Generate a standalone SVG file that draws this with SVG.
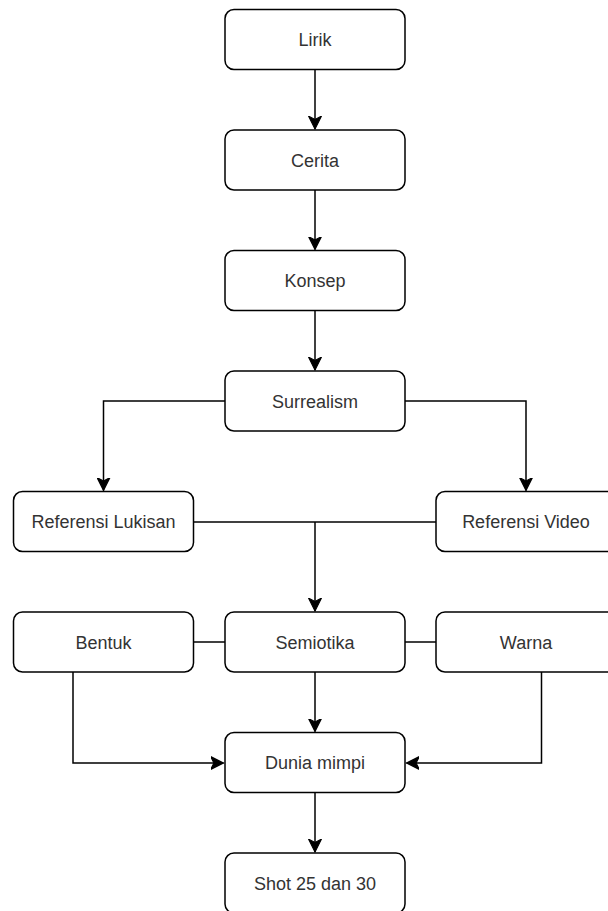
<svg xmlns="http://www.w3.org/2000/svg" width="608" height="911" viewBox="0 0 608 911">
<style>
.box{fill:#fff;stroke:#000;stroke-width:1.5}
.lbl{font-family:"Liberation Sans",Arial,sans-serif;font-size:18px;fill:#333;text-anchor:middle;dominant-baseline:central}
.edge{fill:none;stroke:#000;stroke-width:1.5}
.arr{marker-end:url(#ah)}
</style>
<defs>
<marker id="ah" markerUnits="userSpaceOnUse" markerWidth="14" markerHeight="14" viewBox="0 0 12 12" refX="11" refY="6" orient="auto">
<path d="M11,6 L0,0.5 L2.8,6 L0,11.5 Z" fill="#000" stroke="#000" stroke-width="1"/>
</marker>
</defs>
<rect width="608" height="911" fill="#fff"/>
<g id="connectors">
<path class="edge arr" d="M315,69.5 V129"/>
<path class="edge arr" d="M315,190 V249.5"/>
<path class="edge arr" d="M315,310.5 V370"/>
<path class="edge arr" d="M225,401 H103.5 V490.5"/>
<path class="edge arr" d="M405,401 H526 V490.5"/>
<path class="edge" d="M193.5,522 H436"/>
<path class="edge arr" d="M315,522 V611"/>
<path class="edge" d="M193.5,642 H225"/>
<path class="edge" d="M405,642 H436"/>
<path class="edge arr" d="M315,672 V731.5"/>
<path class="edge arr" d="M73,672 V763 H223.5"/>
<path class="edge arr" d="M541.5,672 V763 H406.5"/>
<path class="edge arr" d="M315,792.5 V852"/>
</g>
<g id="lirik"><rect class="box" x="225" y="9.5" width="180" height="60" rx="9"/><text class="lbl" x="315" y="40">Lirik</text></g>
<g id="cerita"><rect class="box" x="225" y="130" width="180" height="60" rx="9"/><text class="lbl" x="315" y="160.5">Cerita</text></g>
<g id="konsep"><rect class="box" x="225" y="250.5" width="180" height="60" rx="9"/><text class="lbl" x="315" y="281">Konsep</text></g>
<g id="surrealism"><rect class="box" x="225" y="371" width="180" height="60" rx="9"/><text class="lbl" x="315" y="401.5">Surrealism</text></g>
<g id="ref-lukisan"><rect class="box" x="13.5" y="491.5" width="180" height="60" rx="9"/><text class="lbl" x="103.5" y="522">Referensi Lukisan</text></g>
<g id="ref-video"><rect class="box" x="436" y="491.5" width="180" height="60" rx="9"/><text class="lbl" x="526" y="522">Referensi Video</text></g>
<g id="bentuk"><rect class="box" x="13.5" y="612" width="180" height="60" rx="9"/><text class="lbl" x="103.5" y="642.5">Bentuk</text></g>
<g id="semiotika"><rect class="box" x="225" y="612" width="180" height="60" rx="9"/><text class="lbl" x="315" y="642.5">Semiotika</text></g>
<g id="warna"><rect class="box" x="436" y="612" width="180" height="60" rx="9"/><text class="lbl" x="526" y="642.5">Warna</text></g>
<g id="dunia-mimpi"><rect class="box" x="225" y="732.5" width="180" height="60" rx="9"/><text class="lbl" x="315" y="763">Dunia mimpi</text></g>
<g id="shot"><rect class="box" x="225" y="853" width="180" height="60" rx="9"/><text class="lbl" x="315" y="883.5">Shot 25 dan 30</text></g>
</svg>
